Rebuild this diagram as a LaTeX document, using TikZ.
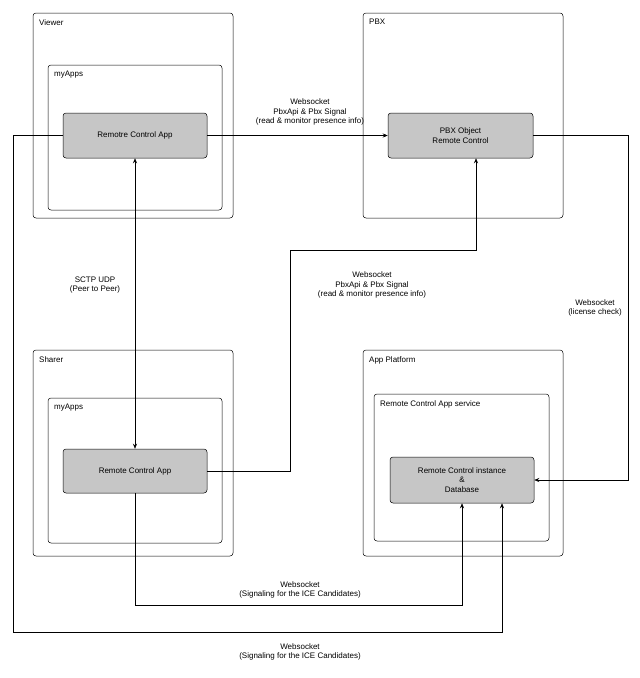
\documentclass[tikz,border=0pt]{standalone}
\usepackage{fontspec}
\setmainfont{Liberation Sans}
\usetikzlibrary{arrows.meta}
\tikzset{
  frame/.style={draw, rounded corners=3pt, line width=0.5pt},
  app/.style={draw, fill=gray!45, rounded corners=3pt, line width=0.5pt, align=center, font=\fontsize{8}{9.5}\selectfont},
  title/.style={anchor=north west, inner sep=0pt, font=\fontsize{8}{9.5}\selectfont},
  lbl/.style={align=center, font=\fontsize{8}{9.5}\selectfont, inner sep=1pt},
  link/.style={line width=0.5pt, -{Stealth[length=5pt,width=4pt]}}
}
\begin{document}
\begin{tikzpicture}[x=1pt,y=-1pt]
    \useasboundingbox (0,0) rectangle (640,678);
    % outer frames
    \draw[frame] (33,13) rectangle (233,218);
    \node[title] at (39,19) {Viewer};
    \draw[frame] (48,65) rectangle (222,210);
    \node[title] at (54,71) {myApps};
    \draw[frame] (363,13) rectangle (563,218);
    \node[title] at (369,19) {PBX};
    \draw[frame] (33,350) rectangle (233,556);
    \node[title] at (39,356) {Sharer};
    \draw[frame] (48,398) rectangle (222,543);
    \node[title] at (54,404) {myApps};
    \draw[frame] (363,350) rectangle (563,556);
    \node[title] at (369,356) {App Platform};
    \draw[frame] (374,394) rectangle (549,541);
    \node[title] at (380,400) {Remote Control App service};

    % apps
    \node[app, minimum width=144pt, minimum height=45pt] (viewapp) at (135,135.5) {Remotre Control App};
    \node[app, minimum width=145pt, minimum height=45pt] (pbxobj) at (460.5,135.5) {PBX Object\\Remote Control};
    \node[app, minimum width=144pt, minimum height=44pt] (shareapp) at (135,471) {Remote Control App};
    \node[app, minimum width=144pt, minimum height=46pt] (inst) at (462,480) {Remote Control instance\\\&\\Database};

    \coordinate (c1) at (290,471);
    \coordinate (c2) at (290,250);
    \coordinate (c3) at (628,135.5);
    \coordinate (c4) at (628,480);
    \coordinate (c5) at (135,605);
    \coordinate (c6) at (13,135.5);
    \coordinate (c7) at (13,632);

    \draw[link] (viewapp.east) -- (pbxobj.west);
    \draw[link, {Stealth[length=5pt,width=4pt]}-{Stealth[length=5pt,width=4pt]}] (viewapp.south) -- (shareapp.north);
    \draw[link] (shareapp.east) -- (c1) -- (c2) -| ([xshift=15.5pt]pbxobj.south);
    \draw[link] (pbxobj.east) -- (c3) -- (c4) -- (inst.east);
    \draw[link] (shareapp.south) -- (c5) -| (inst.south);
    \draw[link] (viewapp.west) -- (c6) -- (c7) -| ([xshift=40pt]inst.south);

    % labels
    \node[lbl] at (310,112) {Websocket\\PbxApi \& Pbx Signal\\(read \& monitor presence info)};
    \node[lbl] at (95,285) {SCTP UDP\\(Peer to Peer)};
    \node[lbl] at (372,285) {Websocket\\PbxApi \& Pbx Signal\\(read \& monitor presence info)};
    \node[lbl] at (595,308) {Websocket\\(license check)};
    \node[lbl] at (300,590) {Websocket\\(Signaling for the ICE Candidates)};
    \node[lbl] at (300,652) {Websocket\\(Signaling for the ICE Candidates)};
\end{tikzpicture}
\end{document}
